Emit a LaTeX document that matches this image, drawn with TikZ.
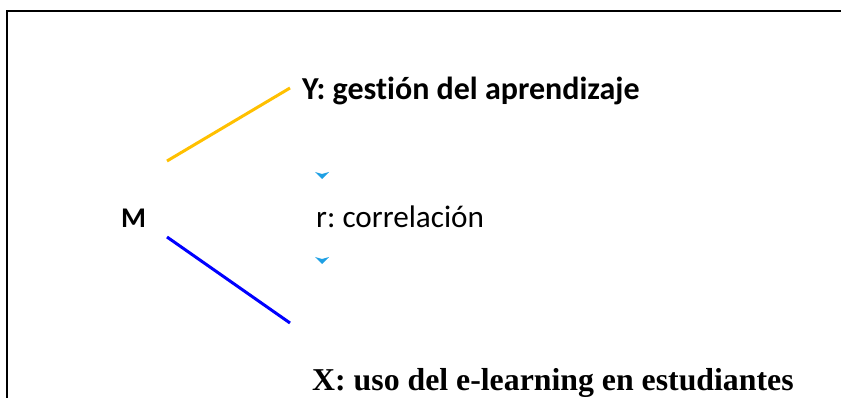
\documentclass[tikz,border=0pt]{standalone}
\usepackage{fontspec}
\setmainfont[Ligatures=NoCommon]{Carlito}
\newfontfamily\timesfont{Liberation Serif}
\definecolor{lineY}{RGB}{255,192,0}
\definecolor{lineX}{RGB}{0,0,255}
\definecolor{tipr}{RGB}{30,160,228}
\frenchspacing
\begin{document}
\begin{tikzpicture}[x=1pt,y=-1pt]
\useasboundingbox (0,0) rectangle (841,398);
\draw[line width=2pt] (7,400) -- (7,11) -- (845,11);
\node[anchor=base west, inner sep=0, font=\fontsize{32}{36}\selectfont\bfseries] (Y) at (302,100) {Y: gestión del aprendizaje};
\node[anchor=base west, inner sep=0, font=\fontsize{28.5}{32}\selectfont\bfseries] (M) at (121,228) {M};
\node[anchor=base west, inner sep=0, font=\fontsize{31.2}{35}\selectfont] (r) at (316,228) {r: correlación};
\node[anchor=base west, inner sep=0, font=\timesfont\fontsize{31.8}{36}\selectfont\bfseries] (X) at (312,390) {X: uso del e-learning en estudiantes};
\coordinate (my) at (167,161);
\coordinate (yy) at (290,88);
\coordinate (mx) at (167,237);
\coordinate (xx) at (290,323);
\draw[lineY, line width=3pt](my) -- (yy);
\draw[lineX, line width=3pt](mx) -- (xx);
\coordinate (t1) at (322,179);
\coordinate (t2) at (322,264);
\fill[tipr] (t1) -- ++(-7,-7) -- ++(7,2) -- ++(7,-2) -- cycle;
\fill[tipr] (t2) -- ++(-7,-7) -- ++(7,2) -- ++(7,-2) -- cycle;
\end{tikzpicture}
\end{document}
